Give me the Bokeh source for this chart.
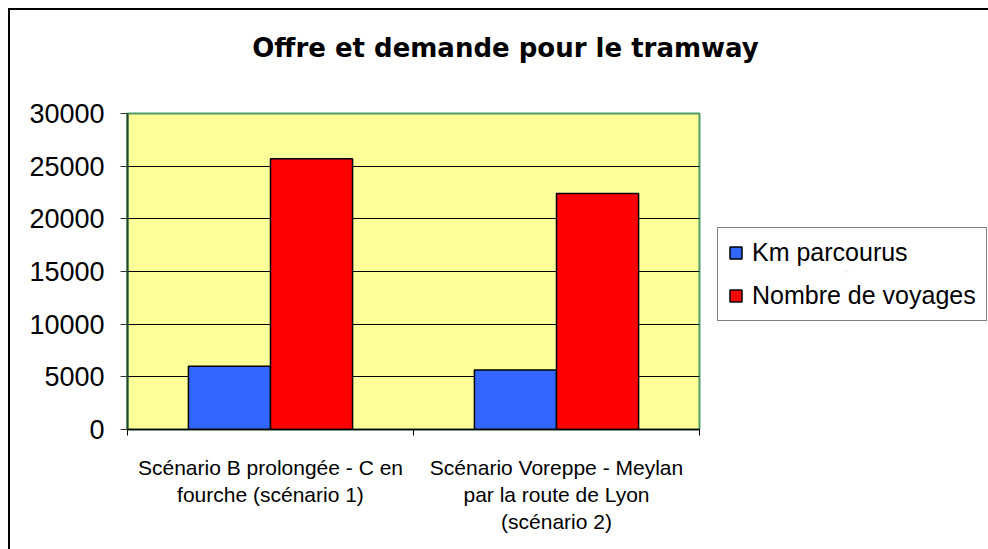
import numpy as np
from bokeh.plotting import figure
from bokeh.layouts import column, row
from bokeh.models import FixedTicker, Range1d, ColumnDataSource, Legend, LegendItem, Label
from bokeh.embed import file_html
from bokeh.resources import INLINE

categories = ["Scénario B prolongée - C en\nfourche (scénario 1)",
              "Scénario Voreppe - Meylan\npar la route de Lyon\n(scénario 2)"]
series_names = ["Km parcourus", "Nombre de voyages"]
series_colors = ["#3366FF", "#FF0000"]
km_parcourus = [6000, 5650]
nombre_voyages = [25700, 22400]
y_ticks = [0, 5000, 10000, 15000, 20000, 25000, 30000]
title_text = "Offre et demande pour le tramway"


def blank(fig):
    fig.axis.visible = False
    fig.grid.visible = False
    fig.outline_line_color = None
    fig.background_fill_color = "white"
    fig.border_fill_color = "white"


# ---- title strip ----
TOP_H = 90
tf = figure(width=978, height=TOP_H, output_backend="svg", toolbar_location=None,
            x_range=Range1d(0, 1), y_range=Range1d(0, 1),
            min_border=0, min_border_left=0, min_border_right=0,
            min_border_top=0, min_border_bottom=0)
blank(tf)
tf.add_layout(Label(x=495, y=TOP_H - 37, x_units="screen", y_units="screen",
                    text=title_text, text_align="center", text_baseline="middle",
                    text_font="DejaVu Sans", text_font_size="26px",
                    text_font_style="bold", text_color="black"))

# ---- main chart ----
MAIN_H = 539 - TOP_H
pos = np.arange(len(categories)) + 0.5
bar_w = 0.287
src = ColumnDataSource(dict(x1=pos - bar_w / 2, x2=pos + bar_w / 2,
                            km=km_parcourus, voy=nombre_voyages))

p = figure(width=695, height=MAIN_H, output_backend="svg", toolbar_location=None,
           x_range=Range1d(0, len(categories)), y_range=Range1d(0, 30000),
           min_border_left=117, min_border_right=6, min_border_top=13,
           min_border_bottom=120)
p.background_fill_color = "#FFFF99"
p.border_fill_color = "white"
p.outline_line_color = "#4e9a68"
p.outline_line_width = 2

p.vbar(x="x1", top="km", width=bar_w, source=src, fill_color=series_colors[0],
       line_color="black", line_width=1.5)
p.vbar(x="x2", top="voy", width=bar_w, source=src, fill_color=series_colors[1],
       line_color="black", line_width=1.5)

p.xgrid.grid_line_color = None
p.ygrid.ticker = FixedTicker(ticks=y_ticks)
p.ygrid.grid_line_color = "black"
p.ygrid.grid_line_width = 1

ya = p.yaxis[0]
ya.ticker = FixedTicker(ticks=y_ticks)
ya.axis_line_color = "#1f4a2c"
ya.axis_line_width = 2
ya.major_tick_line_color = "#333333"
ya.major_tick_out = 7
ya.major_tick_in = 0
ya.minor_tick_line_color = None
ya.major_label_text_font = "Liberation Sans"
ya.major_label_text_font_size = "27px"
ya.major_label_text_color = "black"
ya.major_label_standoff = 16

xa = p.xaxis[0]
xa.ticker = FixedTicker(ticks=list(pos), minor_ticks=list(range(len(categories) + 1)))
xa.major_label_overrides = {float(v): c for v, c in zip(pos, categories)}
xa.axis_line_color = "black"
xa.axis_line_width = 1.5
xa.major_tick_line_color = None
xa.major_tick_out = 0
xa.major_tick_in = 0
xa.minor_tick_line_color = "black"
xa.minor_tick_out = 6
xa.minor_tick_in = 0
xa.major_label_text_font = "Liberation Sans"
xa.major_label_text_font_size = "21px"
xa.major_label_text_color = "black"
xa.major_label_text_line_height = 1.19
xa.major_label_standoff = 20

# ---- legend panel ----
lf = figure(width=283, height=MAIN_H, output_backend="svg", toolbar_location=None,
            x_range=Range1d(0, 1), y_range=Range1d(0, 1),
            min_border=0, min_border_left=0, min_border_right=0,
            min_border_top=0, min_border_bottom=0)
blank(lf)
# zero-size stand-ins hidden behind the legend box, only used to draw the swatches
lr1 = lf.vbar(x=[0.5], bottom=[0.5], top=[0.5], width=0.01, fill_color=series_colors[0],
              line_color="black", line_width=1.5)
lr2 = lf.vbar(x=[0.5], bottom=[0.5], top=[0.5], width=0.01, fill_color=series_colors[1],
              line_color="black", line_width=1.5)
lg = Legend(items=[LegendItem(label=series_names[0], renderers=[lr1]),
                   LegendItem(label=series_names[1], renderers=[lr2])],
            location=(12, 108))
lg.border_line_color = "black"
lg.border_line_width = 1
lg.background_fill_color = "white"
lg.label_text_font = "Liberation Sans"
lg.label_text_font_size = "25px"
lg.label_text_color = "black"
lg.glyph_width = 15
lg.glyph_height = 15
lg.label_standoff = 9
lg.padding = 10
lg.spacing = 14
lg.margin = 0
lf.add_layout(lg, "center")

layout = column(tf, row(p, lf, spacing=0), spacing=0)
layout.styles = {"border-left": "2px solid black", "border-top": "2px solid black",
                 "margin-left": "8px", "margin-top": "8px"}

open("out.html", "w").write(file_html(layout, INLINE))
